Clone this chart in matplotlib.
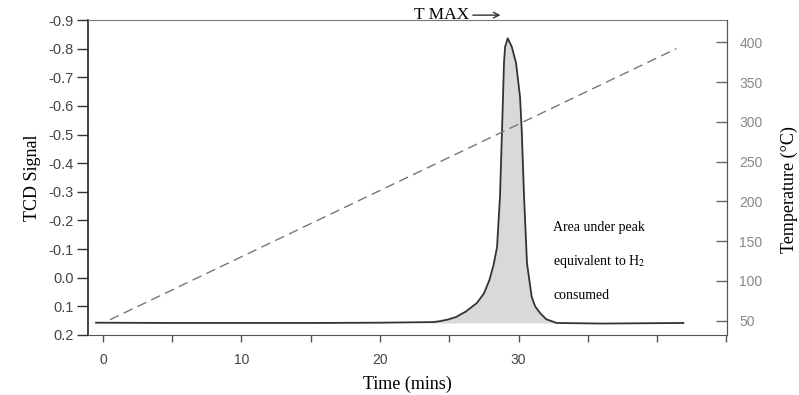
import matplotlib.pyplot as plt

plt.rcParams['mathtext.fontset'] = 'stix'

# TCD trace (time in min, signal, axis inverted)
time_sig = [-0.5, 5, 10, 15, 20, 23.8, 24.3, 24.9, 25.5, 26.2, 27.0, 27.5, 27.9, 28.2,
            28.45, 28.66, 28.81, 28.88, 28.95, 29.03, 29.22, 29.51, 29.82, 30.11,
            30.23, 30.40, 30.61, 30.95, 31.2, 31.55, 32.0, 32.76, 36.0, 41.9]
signal = [0.157, 0.158, 0.158, 0.158, 0.157, 0.155, 0.152, 0.146, 0.137, 0.118, 0.088,
          0.055, 0.008, -0.045, -0.107, -0.282, -0.516, -0.631, -0.750, -0.806,
          -0.836, -0.807, -0.750, -0.631, -0.516, -0.282, -0.051, 0.067, 0.100,
          0.123, 0.145, 0.158, 0.160, 0.158]
baseline = 0.158
peak_range = (23.8, 32.8)

# temperature ramp
time_temp = [0.5, 41.4]
temp = [51, 392]

sig_ticks = [-0.9, -0.8, -0.7, -0.6, -0.5, -0.4, -0.3, -0.2, -0.1, 0.0, 0.1, 0.2]
sig_labels = ['-0.9', '-0.8', '-0.7', '-0.6', '-0.5', '-0.4', '-0.3', '-0.2', '-0.1',
              '0.0', '0.1', '0.2']
time_ticks = [0, 5, 10, 15, 20, 25, 30, 35, 40, 45]
time_labels = ['0', '', '10', '', '20', '', '30', '', '', '']
temp_ticks = [50, 100, 150, 200, 250, 300, 350, 400]

serif = 'Liberation Serif'
sans = 'Liberation Sans'

fig = plt.figure(figsize=(7.99, 3.95), dpi=100)
ax = fig.add_axes([88 / 799, 1 - 335 / 395, (727 - 88) / 799, (335 - 20) / 395])

# peak fill
fx = [t for t in time_sig if peak_range[0] <= t <= peak_range[1]]
fy = [s for t, s in zip(time_sig, signal) if peak_range[0] <= t <= peak_range[1]]
ax.fill_between(fx, fy, baseline, color='#d9d9d9', lw=0)
ax.plot(time_sig, signal, color='#333333', lw=1.3)

ax.set_xlim(-1.08, 45.05)
ax.set_ylim(0.2, -0.9)
ax.set_yticks(sig_ticks)
ax.set_yticklabels(sig_labels, family=sans, fontsize=10.5, color='#444444')
ax.set_xticks(time_ticks)
ax.set_xticklabels(time_labels, family=sans, fontsize=10, color='#444444')
ax.tick_params(axis='y', direction='out', length=8, width=1, color='#333333', pad=2)
ax.tick_params(axis='x', direction='out', length=5, width=1, color='#555555', pad=8)

ax.spines['left'].set_color('#222222')
ax.spines['left'].set_linewidth(1.2)
ax.spines['bottom'].set_color('#555555')
ax.spines['top'].set_color('#777777')
ax.spines['top'].set_linestyle((0, (3, 1)))
ax.spines['right'].set_color('#555555')

ax.set_ylabel('TCD Signal', family=serif, fontsize=13, labelpad=6)
ax.set_xlabel('Time (mins)', family=serif, fontsize=13, labelpad=6)

# temperature axis
ax2 = ax.twinx()
ax2.plot(time_temp, temp, color='#777777', lw=1, linestyle=(0, (7, 4)))
ax2.set_ylim(31.8, 428)
ax2.set_yticks(temp_ticks)
ax2.set_yticklabels([str(v) for v in temp_ticks], family=sans, fontsize=10, color='#888888')
ax2.tick_params(axis='y', direction='in', length=8, width=1, color='#666666', pad=9)
ax2.spines['right'].set_color('#555555')
ax2.spines['top'].set_visible(False)
ax2.spines['left'].set_visible(False)
ax2.spines['bottom'].set_visible(False)

fig.text(789 / 799, 1 - 190 / 395, 'Temperature (°C)', family=serif, fontsize=13,
         rotation=90, ha='center', va='center')

# annotations
ax.annotate('', xy=(28.9, -0.917), xytext=(26.5, -0.917), annotation_clip=False,
            arrowprops=dict(arrowstyle='->', color='#333333', lw=1))
ax.text(26.4, -0.917, 'T MAX', family=serif, fontsize=12.5, ha='right', va='center',
        clip_on=False)

ax.text(32.5, -0.175, 'Area under peak', family=serif, fontsize=10, va='center')
ax.text(32.5, -0.055, 'equivalent to H$_2$', family=serif, fontsize=10, va='center')
ax.text(32.5, 0.063, 'consumed', family=serif, fontsize=10, va='center')

fig.savefig('out.png', dpi=100)
